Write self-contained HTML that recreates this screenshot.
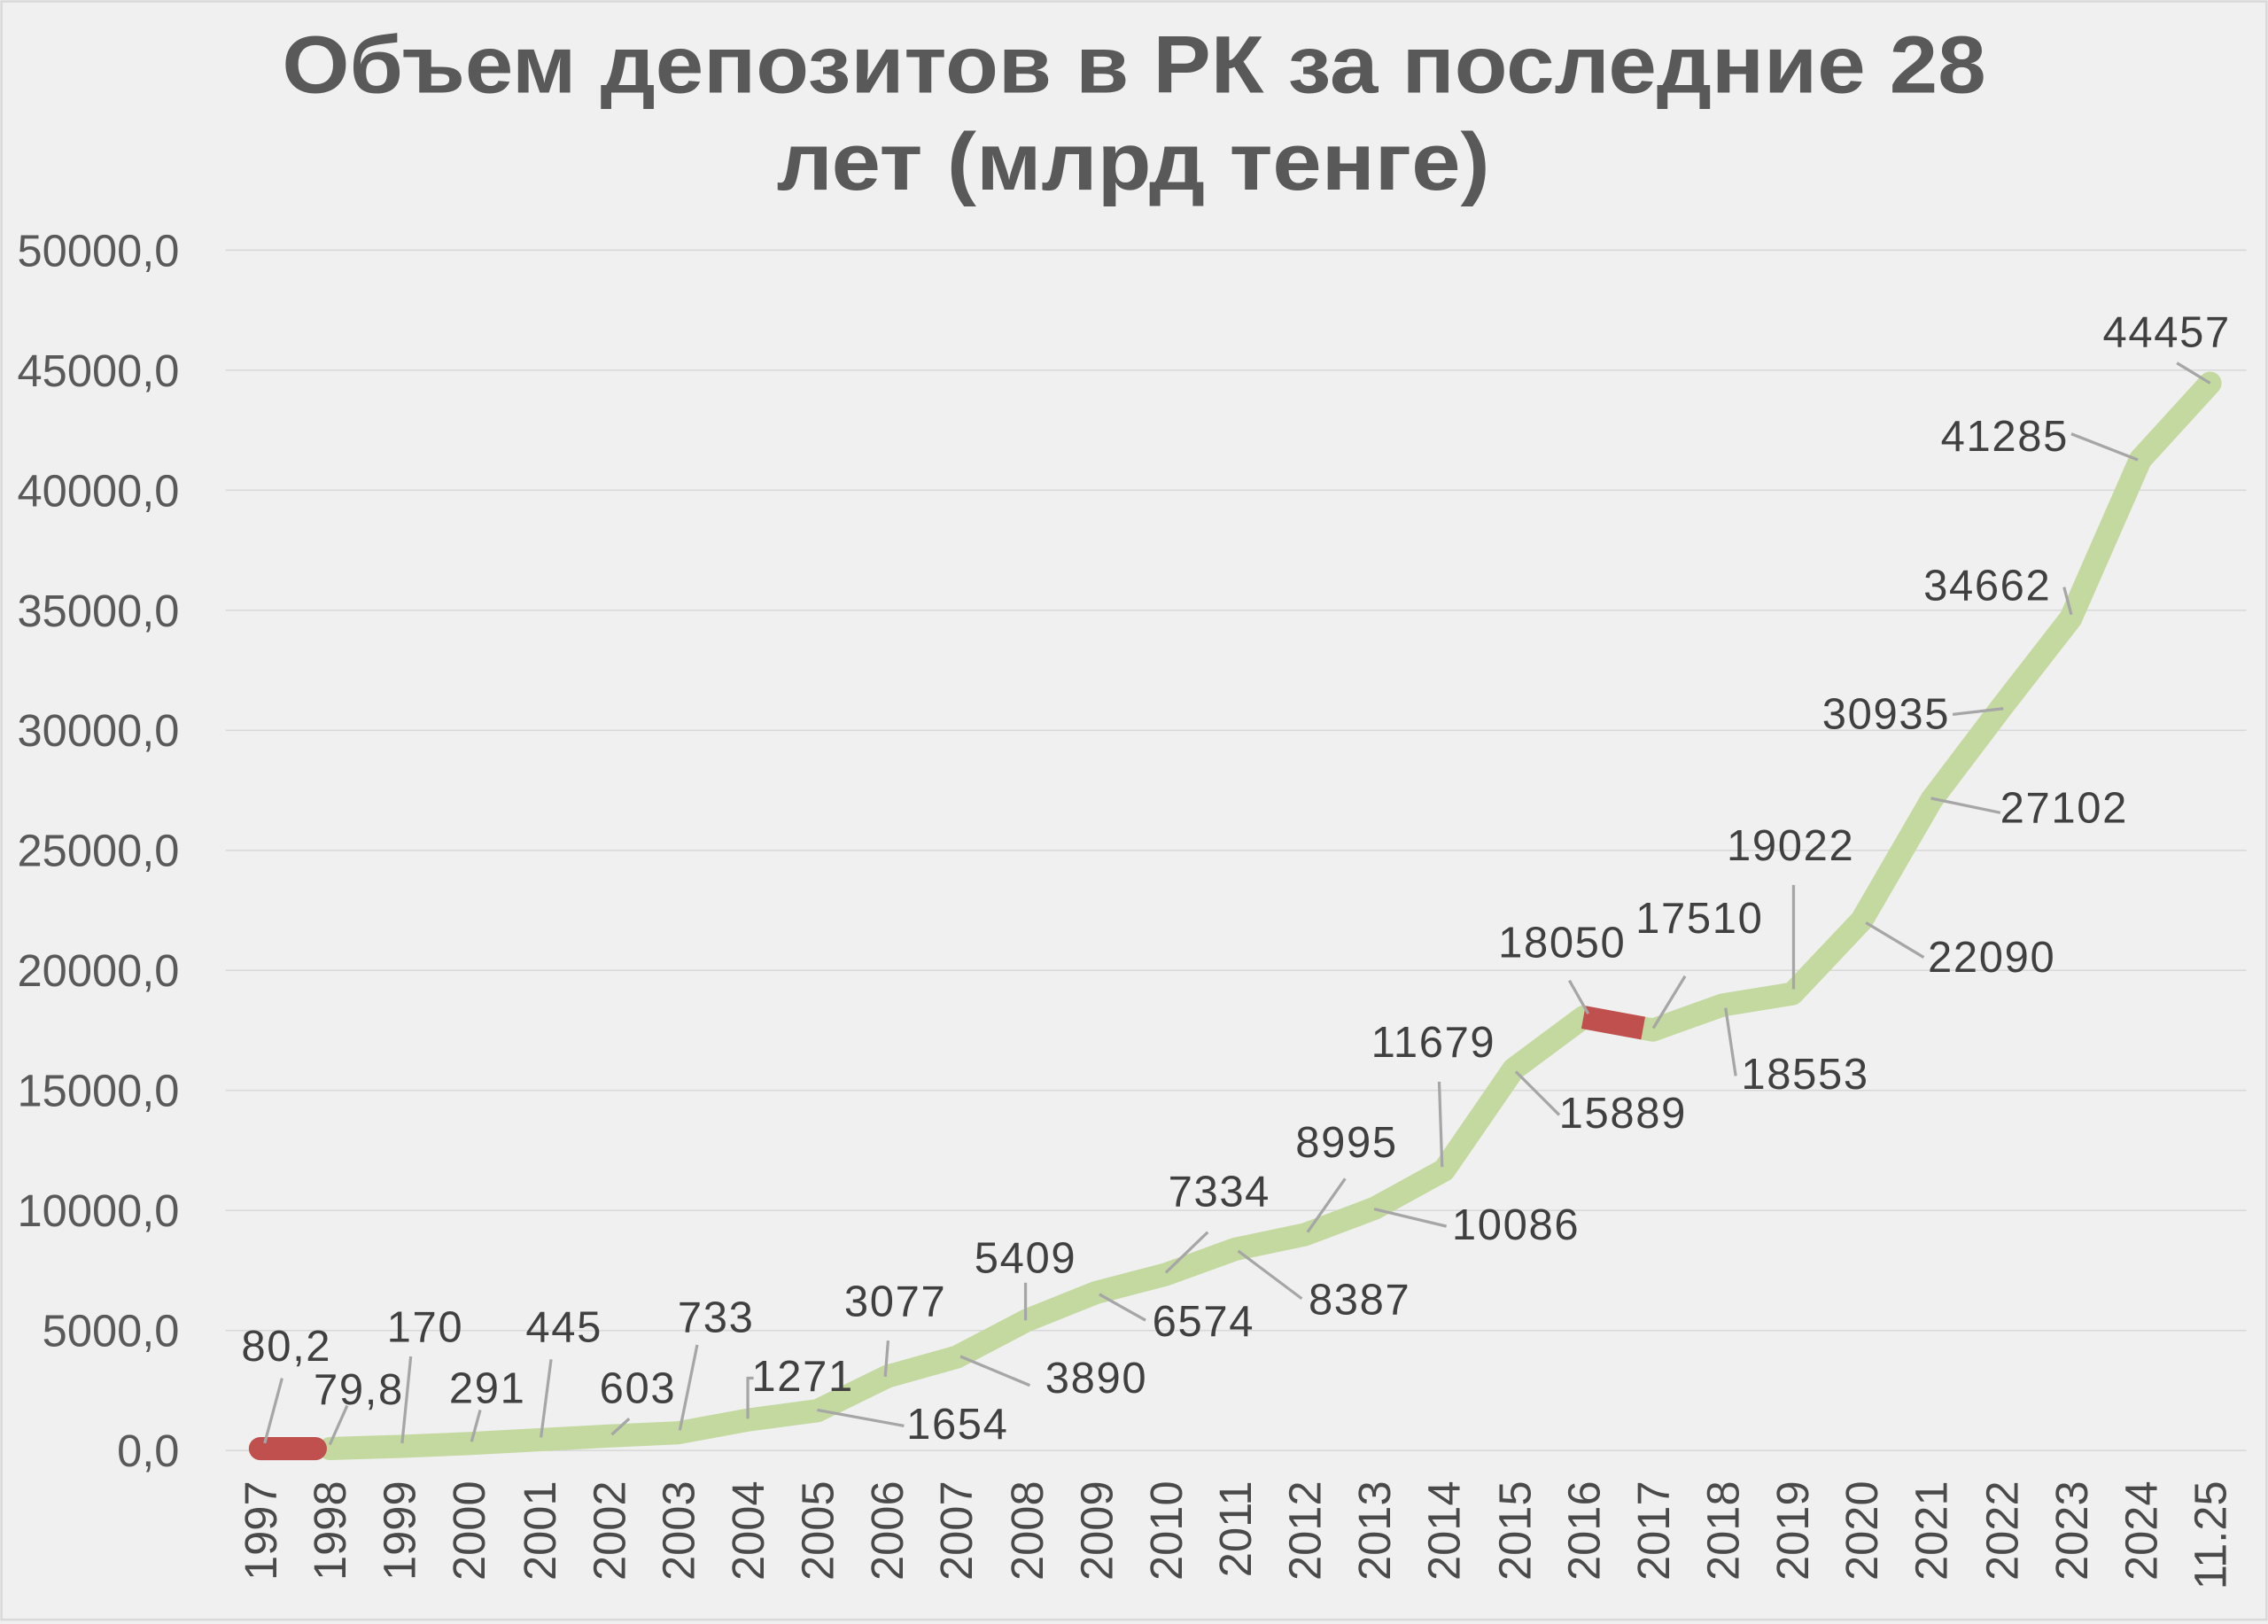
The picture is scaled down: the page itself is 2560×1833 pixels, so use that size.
<!DOCTYPE html>
<html><head><meta charset="utf-8"><style>
html,body{margin:0;padding:0;background:#f0f0f0;}
svg{display:block;}
</style></head><body>
<svg width="2560" height="1833" viewBox="0 0 1568 1123" preserveAspectRatio="none" xmlns="http://www.w3.org/2000/svg">
<rect x="0" y="0" width="1568" height="1123" fill="#f0f0f0"/>
<rect x="1" y="1" width="1566" height="1119" fill="none" stroke="#d9d9d9" stroke-width="1.5"/>
<g font-family="Liberation Sans, DejaVu Sans, sans-serif" font-weight="bold" fill="#595959" font-size="56">
<text x="195" y="64" textLength="1178" lengthAdjust="spacingAndGlyphs">Объем депозитов в РК за последние 28</text>
<text x="537" y="131" textLength="493" lengthAdjust="spacingAndGlyphs">лет (млрд тенге)</text>
</g>
<g stroke="#d9d9d9" stroke-width="1">
<line x1="156" x2="1553" y1="173" y2="173"/><line x1="156" x2="1553" y1="256" y2="256"/>
<line x1="156" x2="1553" y1="339" y2="339"/><line x1="156" x2="1553" y1="422" y2="422"/>
<line x1="156" x2="1553" y1="505" y2="505"/><line x1="156" x2="1553" y1="588" y2="588"/>
<line x1="156" x2="1553" y1="671" y2="671"/><line x1="156" x2="1553" y1="754" y2="754"/>
<line x1="156" x2="1553" y1="837" y2="837"/><line x1="156" x2="1553" y1="920" y2="920"/>
<line x1="156" x2="1553" y1="1003" y2="1003"/>
</g>
<g font-family="Liberation Sans, DejaVu Sans, sans-serif" fill="#595959" font-size="31" text-anchor="end">
<text x="124" y="184">50000,0</text><text x="124" y="267">45000,0</text>
<text x="124" y="350">40000,0</text><text x="124" y="433">35000,0</text>
<text x="124" y="516">30000,0</text><text x="124" y="599">25000,0</text>
<text x="124" y="682">20000,0</text><text x="124" y="765">15000,0</text>
<text x="124" y="848">10000,0</text><text x="124" y="931">5000,0</text>
<text x="124" y="1014">0,0</text>
</g>
<g font-family="Liberation Sans, DejaVu Sans, sans-serif" fill="#4a4a4a" font-size="31" text-anchor="end">
<text transform="translate(191,1024) rotate(-90)">1997</text>
<text transform="translate(239,1024) rotate(-90)">1998</text>
<text transform="translate(287,1024) rotate(-90)">1999</text>
<text transform="translate(335,1024) rotate(-90)">2000</text>
<text transform="translate(384,1024) rotate(-90)">2001</text>
<text transform="translate(432,1024) rotate(-90)">2002</text>
<text transform="translate(480,1024) rotate(-90)">2003</text>
<text transform="translate(528,1024) rotate(-90)">2004</text>
<text transform="translate(576,1024) rotate(-90)">2005</text>
<text transform="translate(624,1024) rotate(-90)">2006</text>
<text transform="translate(672,1024) rotate(-90)">2007</text>
<text transform="translate(721,1024) rotate(-90)">2008</text>
<text transform="translate(769,1024) rotate(-90)">2009</text>
<text transform="translate(817,1024) rotate(-90)">2010</text>
<text transform="translate(865,1024) rotate(-90)">2011</text>
<text transform="translate(913,1024) rotate(-90)">2012</text>
<text transform="translate(961,1024) rotate(-90)">2013</text>
<text transform="translate(1009,1024) rotate(-90)">2014</text>
<text transform="translate(1058,1024) rotate(-90)">2015</text>
<text transform="translate(1106,1024) rotate(-90)">2016</text>
<text transform="translate(1154,1024) rotate(-90)">2017</text>
<text transform="translate(1202,1024) rotate(-90)">2018</text>
<text transform="translate(1250,1024) rotate(-90)">2019</text>
<text transform="translate(1298,1024) rotate(-90)">2020</text>
<text transform="translate(1346,1024) rotate(-90)">2021</text>
<text transform="translate(1395,1024) rotate(-90)">2022</text>
<text transform="translate(1443,1024) rotate(-90)">2023</text>
<text transform="translate(1491,1024) rotate(-90)">2024</text>
<text transform="translate(1539,1024) rotate(-90)">11.25</text>
</g>
<polyline fill="none" stroke="#c4d9a0" stroke-width="16" stroke-linejoin="round" stroke-linecap="round" points="228.1,1001.7 276.3,1000.2 324.4,998.2 372.6,995.6 420.7,993.0 468.8,990.8 517.0,981.9 565.1,975.5 613.3,951.9 661.4,938.4 709.5,913.2 757.7,893.9 805.8,881.3 854.0,863.8 902.1,853.7 950.2,835.6 998.4,809.1 1046.5,739.2 1094.7,703.4 1142.8,712.3 1190.9,695.0 1239.1,687.2 1287.2,636.3 1335.4,553.1 1383.5,489.5 1431.6,427.6 1479.8,317.7 1527.9,265.0"/>
<polyline fill="none" stroke="#c0504d" stroke-width="16" stroke-linecap="round" points="180,1001.7 218,1001.7"/>
<polyline fill="none" stroke="#c0504d" stroke-width="16" stroke-linecap="butt" points="1094.7,703.4 1136,711"/>
<g stroke="#a6a6a6" stroke-width="2" fill="none">
<line x1="183" y1="998" x2="195" y2="953"/><line x1="228" y1="999" x2="240" y2="972"/>
<line x1="278" y1="998" x2="284" y2="938"/><line x1="326" y1="997" x2="332" y2="975"/>
<line x1="374" y1="994" x2="381" y2="940"/><line x1="423" y1="992" x2="435" y2="981"/>
<line x1="470" y1="989" x2="482" y2="930"/><polyline points="517,981 517,953 521,953"/>
<line x1="565" y1="975" x2="625" y2="986"/><line x1="612" y1="952" x2="614" y2="927"/>
<line x1="664" y1="938" x2="712" y2="958"/><line x1="709" y1="913" x2="709" y2="887"/>
<line x1="760" y1="895" x2="792" y2="913"/><line x1="806" y1="880" x2="835" y2="852"/>
<line x1="856" y1="865" x2="900" y2="898"/><line x1="904" y1="852" x2="930" y2="815"/>
<line x1="950" y1="836" x2="1000" y2="848"/><line x1="997" y1="807" x2="995" y2="748"/>
<line x1="1048" y1="741" x2="1078" y2="771"/><line x1="1098" y1="701" x2="1085" y2="678"/>
<line x1="1143" y1="711" x2="1165" y2="675"/><line x1="1193" y1="697" x2="1200" y2="744"/>
<line x1="1240" y1="684" x2="1240" y2="612"/><line x1="1290" y1="638" x2="1330" y2="662"/>
<line x1="1335" y1="552" x2="1383" y2="562"/><line x1="1350" y1="494" x2="1385" y2="490"/>
<line x1="1432" y1="425" x2="1427" y2="406"/><line x1="1478" y1="318" x2="1432" y2="300"/>
<line x1="1528" y1="265" x2="1505" y2="251"/>
</g>
<g font-family="Liberation Sans, DejaVu Sans, sans-serif" fill="#404040" font-size="30" text-anchor="middle" letter-spacing="1">
<text x="198" y="941">80,2</text><text x="248" y="971">79,8</text>
<text x="294" y="928">170</text><text x="337" y="970">291</text>
<text x="390" y="928">445</text><text x="441" y="970">603</text>
<text x="495" y="921">733</text><text x="555" y="962">1271</text>
<text x="662" y="995">1654</text><text x="619" y="910">3077</text>
<text x="758" y="963">3890</text><text x="709" y="880">5409</text>
<text x="832" y="924">6574</text><text x="843" y="834">7334</text>
<text x="940" y="909">8387</text><text x="931" y="800">8995</text>
<text x="1048" y="857">10086</text><text x="991" y="731">11679</text>
<text x="1122" y="780">15889</text><text x="1080" y="662">18050</text>
<text x="1175" y="645">17510</text><text x="1248" y="753">18553</text>
<text x="1238" y="595">19022</text><text x="1377" y="672">22090</text>
<text x="1427" y="569">27102</text><text x="1304" y="504">30935</text>
<text x="1374" y="415">34662</text><text x="1386" y="312">41285</text>
<text x="1498" y="240">44457</text>
</g>
</svg>
</body></html>
